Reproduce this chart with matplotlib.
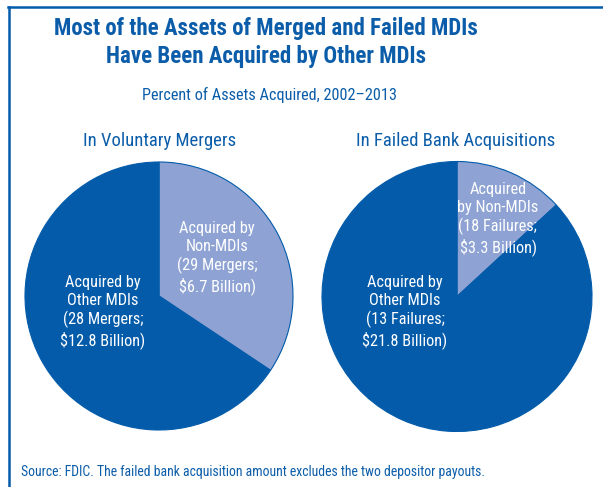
import matplotlib
matplotlib.use("Agg")
from matplotlib import pyplot as plt
from matplotlib.lines import Line2D
from matplotlib import font_manager

# data
merger_values = [6.7, 12.8]      # non-MDIs, other MDIs ($ billion)
failure_values = [3.3, 21.8]
merger_labels = ["Acquired by\nNon-MDIs\n(29 Mergers;\n$6.7 Billion)",
                 "Acquired by\nOther MDIs\n(28 Mergers;\n$12.8 Billion)"]
failure_labels = ["Acquired\nby Non-MDIs\n(18 Failures;\n$3.3 Billion)",
                  "Acquired by\nOther MDIs\n(13 Failures;\n$21.8 Billion)"]

dark = "#035BAA"
light = "#8EA3D3"
textblue = "#0B5DA9"
W, H = 603, 487

# pick a condensed sans if one is installed
installed = set(f.name for f in font_manager.fontManager.ttflist)
family = "Liberation Sans"
for cand in ["Roboto Condensed", "Archivo Narrow", "PT Sans Narrow", "Liberation Sans Narrow",
             "Arimo", "Liberation Sans"]:
    if cand in installed:
        family = cand
        break
plt.rcParams['font.family'] = [family, 'DejaVu Sans']

fig = plt.figure(figsize=(W / 100, H / 100), dpi=100)


def px(x, y):
    return x / W, 1 - y / H


def pie_axes(cx, cy, r):
    ax = fig.add_axes([(cx - r) / W, (H - cy - r) / H, 2 * r / W, 2 * r / H])
    return ax


# frame lines (top and left)
fig.add_artist(Line2D([8 / W, 1], [1 - 7 / H, 1 - 7 / H], color=dark, lw=1.8, transform=fig.transFigure))
fig.add_artist(Line2D([8.5 / W, 8.5 / W], [0, 1 - 7 / H], color=dark, lw=1.8, transform=fig.transFigure))

# titles
fig.text(*px(266, 29), "Most of the Assets of Merged and Failed MDIs", ha="center", va="center",
         fontsize=16.5, fontweight="bold", color=textblue)
fig.text(*px(266, 56), "Have Been Acquired by Other MDIs", ha="center", va="center",
         fontsize=16.5, fontweight="bold", color=textblue)
fig.text(*px(270, 95), "Percent of Assets Acquired, 2002\u20132013", ha="center", va="center",
         fontsize=11.7, color=textblue)
fig.text(*px(160, 141), "In Voluntary Mergers", ha="center", va="center", fontsize=13.4, color=textblue)
fig.text(*px(456, 141), "In Failed Bank Acquisitions", ha="center", va="center", fontsize=13.4, color=textblue)

# left pie
ax1 = pie_axes(159, 296, 134)
ax1.pie(merger_values, colors=[light, dark], startangle=90, counterclock=False, radius=1,
        wedgeprops=dict(edgecolor=dark, linewidth=0.8))
ax1.set_aspect("auto")
ax1.set_xlim(-1, 1)
ax1.set_ylim(-1, 1)

# right pie
ax2 = pie_axes(457, 296.5, 135)
ax2.pie(failure_values, colors=[light, dark], startangle=90, counterclock=False, radius=1,
        wedgeprops=dict(edgecolor=dark, linewidth=0.8))
ax2.set_aspect("auto")
ax2.set_xlim(-1, 1)
ax2.set_ylim(-1, 1)

# wedge labels
kw = dict(ha="center", va="center", fontsize=11.7, color="white", linespacing=1.22)
fig.text(*px(217, 258), merger_labels[0], **kw)
fig.text(*px(103, 312), merger_labels[1], **kw)
fig.text(*px(498, 219), failure_labels[0], **kw)
fig.text(*px(405, 312), failure_labels[1], **kw)

# source
fig.text(*px(21, 472), "Source: FDIC. The failed bank acquisition amount excludes the two depositor payouts.",
         ha="left", va="center", fontsize=9.9, color=textblue)

fig.savefig("out.png", dpi=100)
